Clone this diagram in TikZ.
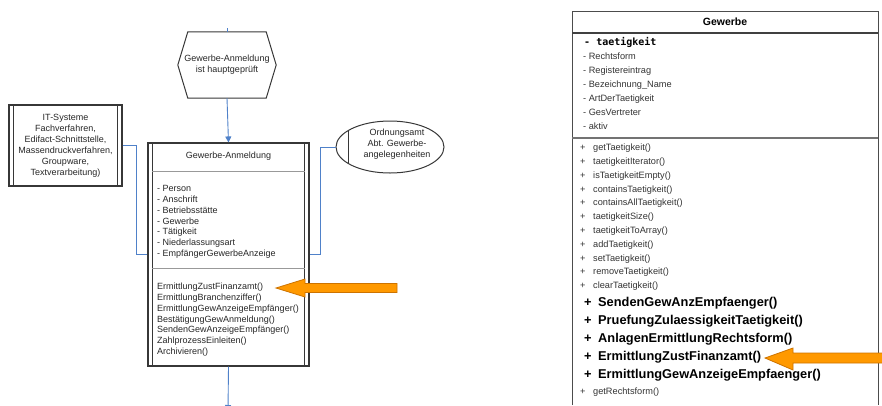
\documentclass[tikz,border=0pt]{standalone}
\usepackage{fontspec}
\setmainfont{Liberation Sans}
\newfontfamily\monof{DejaVu Sans Mono}
\usetikzlibrary{arrows.meta,calc,shapes.geometric}
\definecolor{conblue}{RGB}{79,129,201}
\definecolor{arrorange}{RGB}{255,153,0}
\definecolor{arredge}{RGB}{205,115,0}
\definecolor{boxgray}{RGB}{55,55,55}
\begin{document}
\begin{tikzpicture}[x=1pt,y=-1pt,
  ltxt/.style={inner sep=0pt, font=\fontsize{9}{11}\selectfont, text=black!85},
  rtxt/.style={inner sep=0pt, font=\fontsize{9.2}{11}\selectfont, text=black!80},
  btxt/.style={inner sep=0pt, font=\fontsize{12.8}{14}\selectfont\bfseries, text=black},
  frame/.style={draw=boxgray, line width=1.1pt},
  conn/.style={draw=conblue, line width=0.9pt},
  connarrow/.style={conn, -{Triangle[width=6pt,length=6pt]}},
  bigarrow/.style={fill=arrorange, draw=arredge, line width=0.8pt, line join=miter},
  sepline/.style={draw=black!40, line width=1.2pt}
]
\useasboundingbox (0,0) rectangle (882,405);

% ---------------- left: process chain ----------------
% event hexagon
\node[ltxt, minimum width=98pt, minimum height=66pt, align=center] (hex) at (227,65)
  {Gewerbe-Anmeldung\\ist hauptgeprüft};
\draw[frame, line width=1pt]
  (hex.west) -- ($(hex.north west)+(10,0)$) -- ($(hex.north east)+(-10,0)$)
  -- (hex.east) -- ($(hex.south east)+(-10,0)$) -- ($(hex.south west)+(10,0)$) -- cycle;
\coordinate (topin) at (227,28);
\draw[conn] (topin) -- (hex.north);

% function box
\node[draw=boxgray, line width=1.1pt, minimum width=161pt, minimum height=223pt, inner sep=0pt] (box) at (228.5,254.5) {};
\draw[frame] ($(box.north west)+(5,0)$) -- ($(box.south west)+(5,0)$);
\draw[frame] ($(box.north east)+(-5,0)$) -- ($(box.south east)+(-5,0)$);
\draw[sepline] ($(box.north west)+(5,29)$) -- ($(box.north east)+(-5,29)$);
\draw[sepline] ($(box.north west)+(5,126)$) -- ($(box.north east)+(-5,126)$);
\node[ltxt] (boxtitle) at (228.5,156) {Gewerbe-Anmeldung};
\foreach \t [count=\i from 0] in {- Person,- Anschrift,- Betriebsstätte,- Gewerbe,- Tätigkeit,- Niederlassungsart,- EmpfängerGewerbeAnzeige}
  \node[ltxt, anchor=mid west] (la\i) at (157,{189+10.8*\i}) {\t};
\foreach \t [count=\i from 0] in {ErmittlungZustFinanzamt(),ErmittlungBranchenziffer(),ErmittlungGewAnzeigeEmpfänger(),BestätigungGewAnmeldung(),SendenGewAnzeigeEmpfänger(),ZahlprozessEinleiten(),Archivieren()}
  \node[ltxt, anchor=mid west] (lm\i) at (157,{287+10.8*\i}) {\t};

\draw[connarrow] (hex.south) -- (box.north);
\coordinate (botout) at (228,411);
\draw[connarrow] (box.south) -- (botout);

% IT systems box
\node[draw=boxgray, line width=1.1pt, minimum width=113pt, minimum height=81pt, inner sep=0pt] (itbox) at (65.5,145.5) {};
\draw[frame] ($(itbox.north west)+(5,0)$) -- ($(itbox.south west)+(5,0)$);
\draw[frame] ($(itbox.north east)+(-5,0)$) -- ($(itbox.south east)+(-5,0)$);
\node[ltxt, align=center] (ittxt) at (65.5,145.5)
  {IT-Systeme\\Fachverfahren,\\Edifact-Schnittstelle,\\Massendruckverfahren,\\Groupware,\\Textverarbeitung)};
\draw[conn] (itbox.east) -- ++(14,0) |- (box.west);

% organisational unit ellipse
\node[ellipse, draw=boxgray, line width=1pt, minimum width=108pt, minimum height=52pt, inner sep=0pt] (org) at (390,147) {};
\draw[draw=boxgray, line width=1pt] (348,131) -- (348,163);
\node[ltxt, align=center] (orgtxt) at (397,144) {Ordnungsamt\\Abt. Gewerbe-\\angelegenheiten};
\draw[conn] (org.west) -- ++(-15,0) |- (box.east);

% orange arrow (left)
\draw[bigarrow] (276,288) -- (305,279) -- (305,283.5) -- (397,283.5) -- (397,292.5) -- (305,292.5) -- (305,297) -- cycle;

% ---------------- right: class Gewerbe ----------------
\draw[draw=black!70, line width=0.9pt] (572,405) -- (572,11) -- (878,11) -- (878,405);
\draw[draw=black!75, line width=1.4pt] (572,33) -- (878,33);
\draw[draw=black!55, line width=1.1pt] (572,138) -- (878,138);
\node[inner sep=0pt, font=\fontsize{10.5}{12}\selectfont\bfseries] (gtitle) at (725,22) {Gewerbe};
\node[inner sep=0pt, font=\monof\fontsize{10}{12}\selectfont\bfseries, anchor=mid west] (ga0) at (584,43) {- taetigkeit};
\foreach \t [count=\i from 1] in {- Rechtsform,- Registereintrag,- Bezeichnung\_Name,- ArtDerTaetigkeit,- GesVertreter,- aktiv}
  \node[rtxt, anchor=mid west] (ga\i) at (583,{43+14*\i}) {\t};
\foreach \t [count=\i from 0] in {getTaetigkeit(),taetigkeitIterator(),isTaetigkeitEmpty(),containsTaetigkeit(),containsAllTaetigkeit(),taetigkeitSize(),taetigkeitToArray(),addTaetigkeit(),setTaetigkeit(),removeTaetigkeit(),clearTaetigkeit()}
{
  \node[rtxt, anchor=mid west] (gp\i) at (580,{148+13.8*\i}) {+};
  \node[rtxt, anchor=mid west] (gm\i) at (593,{148+13.8*\i}) {\t};
}
\foreach \t [count=\i from 0] in {SendenGewAnzEmpfaenger(),PruefungZulaessigkeitTaetigkeit(),AnlagenErmittlungRechtsform(),ErmittlungZustFinanzamt(),ErmittlungGewAnzeigeEmpfaenger()}
{
  \node[btxt, anchor=mid west] (bp\i) at (584,{304+18*\i}) {+};
  \node[btxt, anchor=mid west] (bm\i) at (598,{304+18*\i}) {\t};
}
\node[rtxt, anchor=mid west] (gp11) at (580,392) {+};
\node[rtxt, anchor=mid west] (gm11) at (593,392) {getRechtsform()};

% orange arrow (right)
\draw[bigarrow] (765,358) -- (793,348) -- (793,353) -- (885,353) -- (885,363) -- (793,363) -- (793,370) -- cycle;
\end{tikzpicture}
\end{document}
